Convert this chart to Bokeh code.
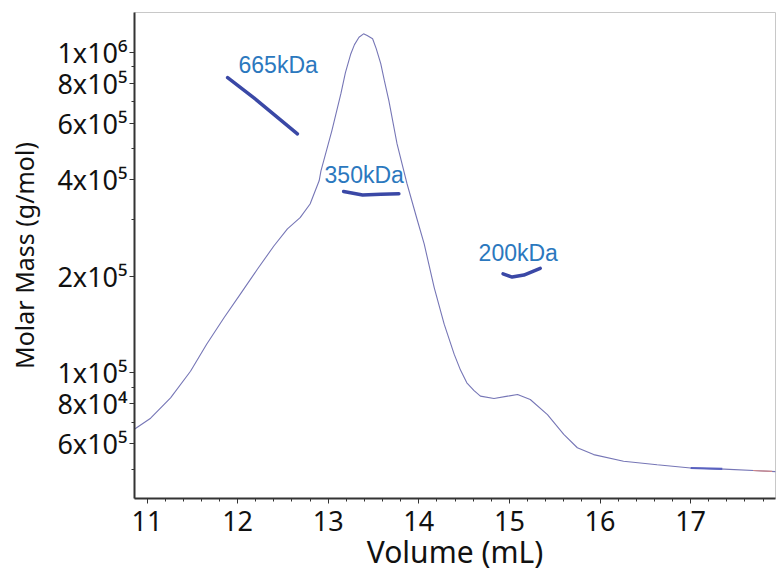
from bokeh.plotting import figure
from bokeh.models import FixedTicker, SingleIntervalTicker, Range1d
from bokeh.core.properties import value
from bokeh.embed import file_html
from bokeh.resources import INLINE

# main trace (Volume mL, on molar-mass log axis)
vol = [10.86, 11.04, 11.26, 11.48, 11.66, 11.85, 12.03, 12.22, 12.40, 12.55,
       12.69, 12.80, 12.90, 12.92, 13.04, 13.14, 13.19, 13.25, 13.29, 13.34,
       13.39, 13.43, 13.49, 13.53, 13.58, 13.62, 13.67, 13.76, 13.87, 13.98,
       14.06, 14.17, 14.28, 14.39, 14.46, 14.53, 14.61, 14.68, 14.83, 14.98,
       15.09, 15.23, 15.42, 15.60, 15.75, 15.93, 16.26, 16.63, 17.00, 17.37, 17.94]
signal = [66700, 72200, 83600, 101200, 123000, 148600, 176100, 210800, 248800, 281300,
          304900, 336300, 397400, 426800, 569000, 742800, 864400, 990000, 1057000, 1114000,
          1142000, 1127600, 1102000, 1027000, 922000, 815700, 706000, 518000, 389000, 302000,
          252000, 184500, 141900, 114400, 102000, 93100, 88000, 84600, 83200, 84600,
          85600, 82600, 74100, 64300, 58400, 55600, 53000, 51700, 50500, 50100, 49200]

# molar mass segments
mm665_x = [11.89, 12.18, 12.66]
mm665_y = [834000, 721000, 557000]
mm350_x = [13.17, 13.38, 13.58, 13.78]
mm350_y = [368000, 359000, 361000, 362000]
mm200_x = [14.93, 15.03, 15.16, 15.34]
mm200_y = [203600, 199000, 201900, 211900]

tail_x = [17.00, 17.35]
tail_y = [50500, 50150]
tail_red_x = [17.69, 17.90]
tail_red_y = [49600, 49250]

labels = ["665kDa", "350kDa", "200kDa"]
label_x = [12.01, 12.96, 14.66]
label_y = [913000, 415000, 237200]

y_major = [60000, 80000, 100000, 200000, 400000, 600000, 800000, 1000000]
y_minor = [50000, 70000, 90000, 300000, 500000, 700000, 900000]
y_tick_text = ["6x10\u2075", "8x10\u2074", "1x10\u2075", "2x10\u2075",
               "4x10\u2075", "6x10\u2075", "8x10\u2075", "1x10\u2076"]

p = figure(width=776, height=574, y_axis_type="log",
           x_range=Range1d(10.862, 17.937), y_range=Range1d(40560, 1331000),
           output_backend="svg", toolbar_location=None,
           min_border_left=134, min_border_top=12, min_border_right=1,
           min_border_bottom=60)

p.grid.visible = False
p.outline_line_color = "#c8c8c8"
p.outline_line_width = 1
p.background_fill_color = "white"
p.border_fill_color = "white"

p.line(vol, signal, line_color="#7676b6", line_width=1.1)
p.line(tail_x, tail_y, line_color="#5a62c0", line_width=2.2)
p.line(tail_red_x, tail_red_y, line_color="#d08888", line_width=1.2)

seg_color = "#3a48a6"
for xs, ys in [(mm665_x, mm665_y), (mm350_x, mm350_y), (mm200_x, mm200_y)]:
    p.line(xs, ys, line_color=seg_color, line_width=3.5, line_cap="round")

p.text(x=label_x, y=label_y, text=labels, text_color="#2b78be",
       text_font=value("Liberation Sans"), text_font_size="23px",
       text_baseline="alphabetic", text_align="left")

# axes
p.xaxis.ticker = SingleIntervalTicker(interval=1, num_minor_ticks=5)
p.yaxis.ticker = FixedTicker(ticks=y_major, minor_ticks=y_minor)
p.yaxis.major_label_overrides = {float(v): t for v, t in zip(y_major, y_tick_text)}

for ax in (p.xaxis, p.yaxis):
    ax.axis_line_color = "#333333"
    ax.axis_line_width = 2
    ax.major_tick_line_color = "#333333"
    ax.minor_tick_line_color = "#333333"
    ax.major_tick_out = 5
    ax.major_tick_in = 0
    ax.minor_tick_out = 3
    ax.minor_tick_in = 0
    ax.major_label_text_font = "Noto Sans"
    ax.major_label_text_font_size = "27px"
    ax.major_label_text_color = "#111111"
    ax.axis_label_text_font = "Noto Sans"
    ax.axis_label_text_font_style = "normal"
    ax.axis_label_text_color = "#111111"

p.xaxis.axis_label = "Volume (mL)"
p.xaxis.axis_label_text_font_size = "30px"
p.xaxis.major_label_standoff = 7
p.xaxis.axis_label_standoff = -3

p.yaxis.axis_label = "Molar Mass (g/mol)"
p.yaxis.axis_label_text_font_size = "25px"
p.yaxis.major_label_standoff = 2
p.yaxis.axis_label_standoff = 13

open("out.html", "w").write(file_html(p, INLINE))
